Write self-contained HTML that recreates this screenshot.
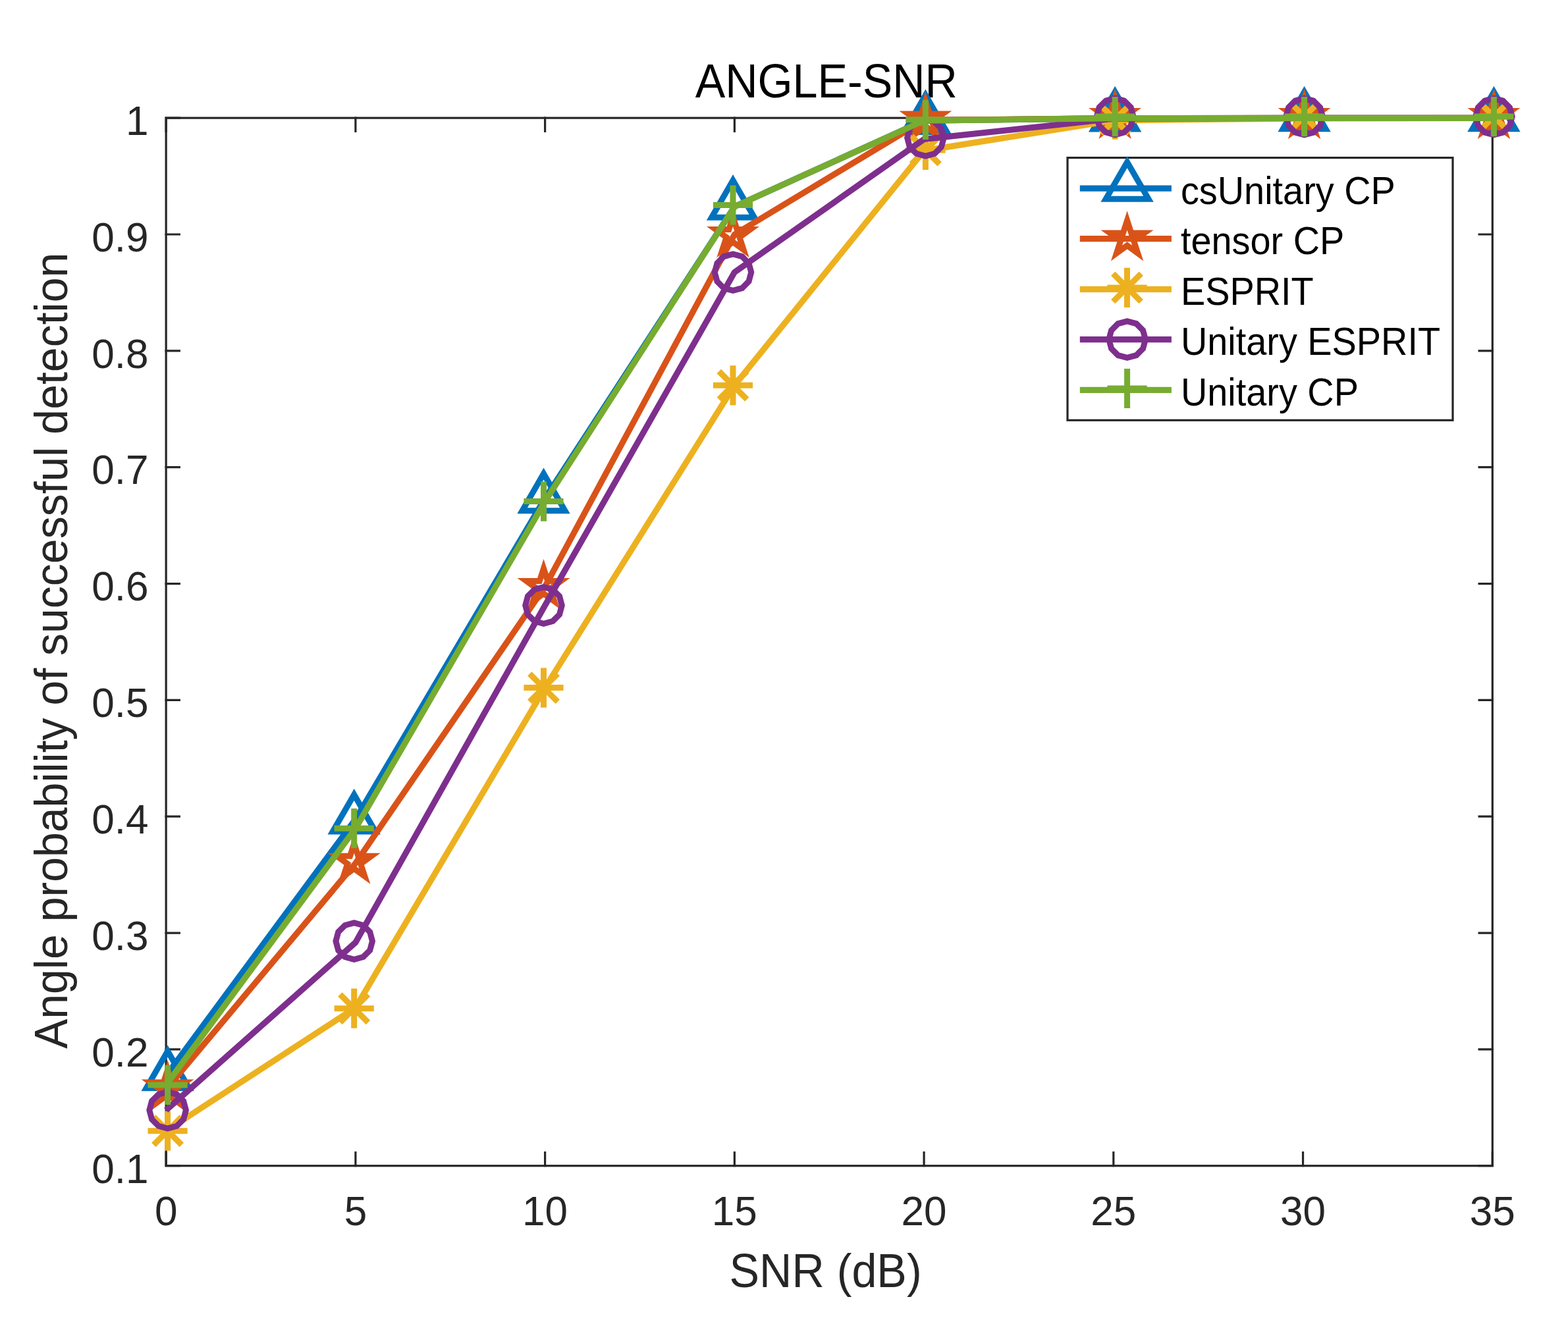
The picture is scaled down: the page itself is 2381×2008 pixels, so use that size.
<!DOCTYPE html>
<html lang="en"><head><meta charset="utf-8"><title>ANGLE-SNR</title>
<style>
html,body{margin:0;padding:0;background:#fff}
svg{display:block}
text{font-family:"Liberation Sans",sans-serif;white-space:pre}
</style></head><body>
<svg width="2381" height="2008" viewBox="0 0 2381 2008">
<rect width="2381" height="2008" fill="#fff"/>
<g stroke="#262626" stroke-width="3.2" fill="none" stroke-linecap="square">
<rect x="252.15" y="179.15" width="2014.15" height="1591.6"/>
<path d="M252.15 1770.75v-20.2M252.15 179.15v20.2M539.89 1770.75v-20.2M539.89 179.15v20.2M827.62 1770.75v-20.2M827.62 179.15v20.2M1115.36 1770.75v-20.2M1115.36 179.15v20.2M1403.09 1770.75v-20.2M1403.09 179.15v20.2M1690.83 1770.75v-20.2M1690.83 179.15v20.2M1978.56 1770.75v-20.2M1978.56 179.15v20.2M2266.3 1770.75v-20.2M2266.3 179.15v20.2M252.15 1770.75h20.2M2266.3 1770.75h-20.2M252.15 1593.91h20.2M2266.3 1593.91h-20.2M252.15 1417.06h20.2M2266.3 1417.06h-20.2M252.15 1240.22h20.2M2266.3 1240.22h-20.2M252.15 1063.37h20.2M2266.3 1063.37h-20.2M252.15 886.53h20.2M2266.3 886.53h-20.2M252.15 709.68h20.2M2266.3 709.68h-20.2M252.15 532.84h20.2M2266.3 532.84h-20.2M252.15 355.99h20.2M2266.3 355.99h-20.2M252.15 179.15h20.2M2266.3 179.15h-20.2"/>
</g>
<g>
<text transform="translate(252.15 1861.3) scale(1 1.028)" font-size="62.06" text-anchor="middle" fill="#262626">0</text>
<text transform="translate(539.89 1861.3) scale(1 1.028)" font-size="62.06" text-anchor="middle" fill="#262626">5</text>
<text transform="translate(827.62 1861.3) scale(1 1.028)" font-size="62.06" text-anchor="middle" fill="#262626">10</text>
<text transform="translate(1115.36 1861.3) scale(1 1.028)" font-size="62.06" text-anchor="middle" fill="#262626">15</text>
<text transform="translate(1403.09 1861.3) scale(1 1.028)" font-size="62.06" text-anchor="middle" fill="#262626">20</text>
<text transform="translate(1690.83 1861.3) scale(1 1.028)" font-size="62.06" text-anchor="middle" fill="#262626">25</text>
<text transform="translate(1978.56 1861.3) scale(1 1.028)" font-size="62.06" text-anchor="middle" fill="#262626">30</text>
<text transform="translate(2266.3 1861.3) scale(1 1.028)" font-size="62.06" text-anchor="middle" fill="#262626">35</text>
<text transform="translate(225.5 1796.55) scale(1 1.028)" font-size="62.06" text-anchor="end" fill="#262626">0.1</text>
<text transform="translate(225.5 1619.71) scale(1 1.028)" font-size="62.06" text-anchor="end" fill="#262626">0.2</text>
<text transform="translate(225.5 1442.86) scale(1 1.028)" font-size="62.06" text-anchor="end" fill="#262626">0.3</text>
<text transform="translate(225.5 1266.02) scale(1 1.028)" font-size="62.06" text-anchor="end" fill="#262626">0.4</text>
<text transform="translate(225.5 1089.17) scale(1 1.028)" font-size="62.06" text-anchor="end" fill="#262626">0.5</text>
<text transform="translate(225.5 912.33) scale(1 1.028)" font-size="62.06" text-anchor="end" fill="#262626">0.6</text>
<text transform="translate(225.5 735.48) scale(1 1.028)" font-size="62.06" text-anchor="end" fill="#262626">0.7</text>
<text transform="translate(225.5 558.64) scale(1 1.028)" font-size="62.06" text-anchor="end" fill="#262626">0.8</text>
<text transform="translate(225.5 381.79) scale(1 1.028)" font-size="62.06" text-anchor="end" fill="#262626">0.9</text>
<text transform="translate(225.5 204.95) scale(1 1.028)" font-size="62.06" text-anchor="end" fill="#262626">1</text>
</g>
<text transform="translate(1107.6 1954.8) scale(1 1.055)" font-size="68.27" text-anchor="start" fill="#262626">SNR (dB)</text>
<text transform="translate(101.5 1593.1) rotate(-90) scale(1 1.025)" font-size="68" text-anchor="start" fill="#262626">Angle probability of successful detection</text>
<text transform="translate(1055.7 148.1) scale(1 1.06)" font-size="68.27" text-anchor="start" fill="#000">ANGLE-SNR</text>
<g><polyline points="252.15,1634 539.89,1244.3 827.62,757 1115.36,313.9 1403.09,183.1 1690.83,179.6 1978.56,179.3 2266.3,179.3" fill="none" stroke="#0072BD" stroke-width="9.2" stroke-linejoin="round" stroke-linecap="butt"/>
<polygon points="254.6,1596.6 287,1652.7 222.2,1652.7" fill="none" stroke="#0072BD" stroke-width="9.0" stroke-linejoin="miter" stroke-miterlimit="10"/>
<polygon points="537.7,1206.9 570.1,1263 505.3,1263" fill="none" stroke="#0072BD" stroke-width="9.0" stroke-linejoin="miter" stroke-miterlimit="10"/>
<polygon points="825.5,719.6 857.9,775.7 793.1,775.7" fill="none" stroke="#0072BD" stroke-width="9.0" stroke-linejoin="miter" stroke-miterlimit="10"/>
<polygon points="1113,274.1 1145.4,330.2 1080.6,330.2" fill="none" stroke="#0072BD" stroke-width="9.0" stroke-linejoin="miter" stroke-miterlimit="10"/>
<polygon points="1405.4,144.4 1437.8,200.5 1373,200.5" fill="none" stroke="#0072BD" stroke-width="9.0" stroke-linejoin="miter" stroke-miterlimit="10"/>
<polygon points="1693.15,139.8 1725.55,195.9 1660.75,195.9" fill="none" stroke="#0072BD" stroke-width="9.0" stroke-linejoin="miter" stroke-miterlimit="10"/>
<polygon points="1980.6,139.7 2013,195.8 1948.2,195.8" fill="none" stroke="#0072BD" stroke-width="9.0" stroke-linejoin="miter" stroke-miterlimit="10"/>
<polygon points="2268.45,139.7 2300.85,195.8 2236.05,195.8" fill="none" stroke="#0072BD" stroke-width="9.0" stroke-linejoin="miter" stroke-miterlimit="10"/>
</g>
<g><polyline points="252.15,1654.9 539.89,1311.1 827.62,891 1115.36,356.1 1403.09,182.7 1690.83,179.6 1978.56,179.3 2266.3,179.3" fill="none" stroke="#D95319" stroke-width="9.2" stroke-linejoin="round" stroke-linecap="butt"/>
<polygon points="254.6,1624.9 260.77,1643.9 280.75,1643.9 264.59,1655.65 270.76,1674.65 254.6,1662.9 238.44,1674.65 244.61,1655.65 228.45,1643.9 248.43,1643.9" fill="none" stroke="#D95319" stroke-width="9.0" stroke-linejoin="miter" stroke-miterlimit="10"/>
<polygon points="537.7,1281.3 543.87,1300.3 563.85,1300.3 547.69,1312.05 553.86,1331.05 537.7,1319.3 521.54,1331.05 527.71,1312.05 511.55,1300.3 531.53,1300.3" fill="none" stroke="#D95319" stroke-width="9.0" stroke-linejoin="miter" stroke-miterlimit="10"/>
<polygon points="825.5,863.5 831.67,882.5 851.65,882.5 835.49,894.25 841.66,913.25 825.5,901.5 809.34,913.25 815.51,894.25 799.35,882.5 819.33,882.5" fill="none" stroke="#D95319" stroke-width="9.0" stroke-linejoin="miter" stroke-miterlimit="10"/>
<polygon points="1113,329.6 1119.17,348.6 1139.15,348.6 1122.99,360.35 1129.16,379.35 1113,367.6 1096.84,379.35 1103.01,360.35 1086.85,348.6 1106.83,348.6" fill="none" stroke="#D95319" stroke-width="9.0" stroke-linejoin="miter" stroke-miterlimit="10"/>
<polygon points="1405.4,153.9 1411.57,172.9 1431.55,172.9 1415.39,184.65 1421.56,203.65 1405.4,191.9 1389.24,203.65 1395.41,184.65 1379.25,172.9 1399.23,172.9" fill="none" stroke="#D95319" stroke-width="9.0" stroke-linejoin="miter" stroke-miterlimit="10"/>
<polygon points="1693.15,149.5 1699.32,168.5 1719.3,168.5 1703.14,180.25 1709.31,199.25 1693.15,187.5 1676.99,199.25 1683.16,180.25 1667,168.5 1686.98,168.5" fill="none" stroke="#D95319" stroke-width="9.0" stroke-linejoin="miter" stroke-miterlimit="10"/>
<polygon points="1980.6,149.6 1986.77,168.6 2006.75,168.6 1990.59,180.35 1996.76,199.35 1980.6,187.6 1964.44,199.35 1970.61,180.35 1954.45,168.6 1974.43,168.6" fill="none" stroke="#D95319" stroke-width="9.0" stroke-linejoin="miter" stroke-miterlimit="10"/>
<polygon points="2268.45,149.6 2274.62,168.6 2294.6,168.6 2278.44,180.35 2284.61,199.35 2268.45,187.6 2252.29,199.35 2258.46,180.35 2242.3,168.6 2262.28,168.6" fill="none" stroke="#D95319" stroke-width="9.0" stroke-linejoin="miter" stroke-miterlimit="10"/>
</g>
<g><polyline points="252.15,1717.7 539.89,1530.5 827.62,1044.6 1115.36,585.3 1403.09,228.9 1690.83,182.9 1978.56,179.9 2266.3,179.3" fill="none" stroke="#EDB120" stroke-width="9.2" stroke-linejoin="round" stroke-linecap="butt"/>
<path d="M224.5 1717.7H284.7M254.6 1687.6V1747.8M233.32 1696.42L275.88 1738.98M233.32 1738.98L275.88 1696.42" fill="none" stroke="#EDB120" stroke-width="9.0" stroke-linejoin="miter" stroke-miterlimit="10"/>
<path d="M507.6 1531.7H567.8M537.7 1501.6V1561.8M516.42 1510.42L558.98 1552.98M516.42 1552.98L558.98 1510.42" fill="none" stroke="#EDB120" stroke-width="9.0" stroke-linejoin="miter" stroke-miterlimit="10"/>
<path d="M795.4 1044.6H855.6M825.5 1014.5V1074.7M804.22 1023.32L846.78 1065.88M804.22 1065.88L846.78 1023.32" fill="none" stroke="#EDB120" stroke-width="9.0" stroke-linejoin="miter" stroke-miterlimit="10"/>
<path d="M1082.9 585.3H1143.1M1113 555.2V615.4M1091.72 564.02L1134.28 606.58M1091.72 606.58L1134.28 564.02" fill="none" stroke="#EDB120" stroke-width="9.0" stroke-linejoin="miter" stroke-miterlimit="10"/>
<path d="M1375.3 228H1435.5M1405.4 197.9V258.1M1384.12 206.72L1426.68 249.28M1384.12 249.28L1426.68 206.72" fill="none" stroke="#EDB120" stroke-width="9.0" stroke-linejoin="miter" stroke-miterlimit="10"/>
<path d="M1663.05 181.7H1723.25M1693.15 151.6V211.8M1671.87 160.42L1714.43 202.98M1671.87 202.98L1714.43 160.42" fill="none" stroke="#EDB120" stroke-width="9.0" stroke-linejoin="miter" stroke-miterlimit="10"/>
<path d="M1950.5 177.1H2010.7M1980.6 147V207.2M1959.32 155.82L2001.88 198.38M1959.32 198.38L2001.88 155.82" fill="none" stroke="#EDB120" stroke-width="9.0" stroke-linejoin="miter" stroke-miterlimit="10"/>
<path d="M2238.35 177.1H2298.55M2268.45 147V207.2M2247.17 155.82L2289.73 198.38M2247.17 198.38L2289.73 155.82" fill="none" stroke="#EDB120" stroke-width="9.0" stroke-linejoin="miter" stroke-miterlimit="10"/>
</g>
<g><polyline points="252.15,1686.3 539.89,1431.5 827.62,919.5 1115.36,413.6 1403.09,211.4 1690.83,180.2 1978.56,179.3 2266.3,179.3" fill="none" stroke="#7E2F8E" stroke-width="9.2" stroke-linejoin="round" stroke-linecap="butt"/>
<polygon points="282.35,1686.3 278.63,1700.17 268.48,1710.33 254.6,1714.05 240.72,1710.33 230.57,1700.17 226.85,1686.3 230.57,1672.42 240.72,1662.27 254.6,1658.55 268.48,1662.27 278.63,1672.42" fill="none" stroke="#7E2F8E" stroke-width="9.0" stroke-linejoin="miter" stroke-miterlimit="10"/>
<polygon points="565.45,1429.5 561.73,1443.38 551.58,1453.53 537.7,1457.25 523.83,1453.53 513.67,1443.38 509.95,1429.5 513.67,1415.62 523.83,1405.47 537.7,1401.75 551.58,1405.47 561.73,1415.62" fill="none" stroke="#7E2F8E" stroke-width="9.0" stroke-linejoin="miter" stroke-miterlimit="10"/>
<polygon points="853.25,919.5 849.53,933.38 839.38,943.53 825.5,947.25 811.62,943.53 801.47,933.38 797.75,919.5 801.47,905.62 811.62,895.47 825.5,891.75 839.38,895.47 849.53,905.62" fill="none" stroke="#7E2F8E" stroke-width="9.0" stroke-linejoin="miter" stroke-miterlimit="10"/>
<polygon points="1140.75,413.6 1137.03,427.48 1126.88,437.63 1113,441.35 1099.12,437.63 1088.97,427.48 1085.25,413.6 1088.97,399.73 1099.12,389.57 1113,385.85 1126.88,389.57 1137.03,399.73" fill="none" stroke="#7E2F8E" stroke-width="9.0" stroke-linejoin="miter" stroke-miterlimit="10"/>
<polygon points="1433.15,209.3 1429.43,223.18 1419.28,233.33 1405.4,237.05 1391.53,233.33 1381.37,223.18 1377.65,209.3 1381.37,195.43 1391.53,185.27 1405.4,181.55 1419.28,185.27 1429.43,195.43" fill="none" stroke="#7E2F8E" stroke-width="9.0" stroke-linejoin="miter" stroke-miterlimit="10"/>
<polygon points="1720.9,177 1717.18,190.88 1707.03,201.03 1693.15,204.75 1679.28,201.03 1669.12,190.88 1665.4,177 1669.12,163.12 1679.28,152.97 1693.15,149.25 1707.03,152.97 1717.18,163.12" fill="none" stroke="#7E2F8E" stroke-width="9.0" stroke-linejoin="miter" stroke-miterlimit="10"/>
<polygon points="2008.35,177.1 2004.63,190.97 1994.47,201.13 1980.6,204.85 1966.72,201.13 1956.57,190.97 1952.85,177.1 1956.57,163.22 1966.72,153.07 1980.6,149.35 1994.47,153.07 2004.63,163.22" fill="none" stroke="#7E2F8E" stroke-width="9.0" stroke-linejoin="miter" stroke-miterlimit="10"/>
<polygon points="2296.2,177.1 2292.48,190.97 2282.32,201.13 2268.45,204.85 2254.57,201.13 2244.42,190.97 2240.7,177.1 2244.42,163.22 2254.57,153.07 2268.45,149.35 2282.32,153.07 2292.48,163.22" fill="none" stroke="#7E2F8E" stroke-width="9.0" stroke-linejoin="miter" stroke-miterlimit="10"/>
</g>
<g><polyline points="252.15,1647.9 539.89,1258.2 827.62,761.6 1115.36,313.9 1403.09,183.1 1690.83,179.6 1978.56,179.3 2266.3,179.3" fill="none" stroke="#77AC30" stroke-width="9.2" stroke-linejoin="round" stroke-linecap="butt"/>
<path d="M224.5 1647.9H284.7M254.6 1617.8V1678" fill="none" stroke="#77AC30" stroke-width="9.0" stroke-linejoin="miter" stroke-miterlimit="10"/>
<path d="M507.6 1258.2H567.8M537.7 1228.1V1288.3" fill="none" stroke="#77AC30" stroke-width="9.0" stroke-linejoin="miter" stroke-miterlimit="10"/>
<path d="M795.4 761.6H855.6M825.5 731.5V791.7" fill="none" stroke="#77AC30" stroke-width="9.0" stroke-linejoin="miter" stroke-miterlimit="10"/>
<path d="M1082.9 311.5H1143.1M1113 281.4V341.6" fill="none" stroke="#77AC30" stroke-width="9.0" stroke-linejoin="miter" stroke-miterlimit="10"/>
<path d="M1375.3 181.8H1435.5M1405.4 151.7V211.9" fill="none" stroke="#77AC30" stroke-width="9.0" stroke-linejoin="miter" stroke-miterlimit="10"/>
<path d="M1663.05 177.1H1723.25M1693.15 147V207.2" fill="none" stroke="#77AC30" stroke-width="9.0" stroke-linejoin="miter" stroke-miterlimit="10"/>
<path d="M1950.5 177.1H2010.7M1980.6 147V207.2" fill="none" stroke="#77AC30" stroke-width="9.0" stroke-linejoin="miter" stroke-miterlimit="10"/>
<path d="M2238.35 177.1H2298.55M2268.45 147V207.2" fill="none" stroke="#77AC30" stroke-width="9.0" stroke-linejoin="miter" stroke-miterlimit="10"/>
</g>
<rect x="1621.0" y="239.6" width="585" height="398.7" fill="#fff" stroke="#262626" stroke-width="3.2"/>
<path d="M1639.8 286.1H1778.9" stroke="#0072BD" stroke-width="9.2" fill="none"/>
<polygon points="1711.6,246.2 1744,302.3 1679.2,302.3" fill="none" stroke="#0072BD" stroke-width="9.0" stroke-linejoin="miter" stroke-miterlimit="10"/>
<text transform="translate(1792.9 309.7) scale(1 1.05)" font-size="55.86" text-anchor="start" fill="#000">csUnitary CP</text>
<path d="M1639.8 362.6H1778.9" stroke="#D95319" stroke-width="9.2" fill="none"/>
<polygon points="1711.6,334.9 1717.77,353.9 1737.75,353.9 1721.59,365.65 1727.76,384.65 1711.6,372.9 1695.44,384.65 1701.61,365.65 1685.45,353.9 1705.43,353.9" fill="none" stroke="#D95319" stroke-width="9.0" stroke-linejoin="miter" stroke-miterlimit="10"/>
<text transform="translate(1792.9 386.2) scale(1 1.05)" font-size="55.86" text-anchor="start" fill="#000">tensor CP</text>
<path d="M1639.8 439.3H1778.9" stroke="#EDB120" stroke-width="9.2" fill="none"/>
<path d="M1681.4 436.9H1741.6M1711.5 406.8V467M1690.22 415.62L1732.78 458.18M1690.22 458.18L1732.78 415.62" fill="none" stroke="#EDB120" stroke-width="9.0" stroke-linejoin="miter" stroke-miterlimit="10"/>
<text transform="translate(1792.9 462.9) scale(1 1.05)" font-size="55.86" text-anchor="start" fill="#000">ESPRIT</text>
<path d="M1639.8 515.6H1778.9" stroke="#7E2F8E" stroke-width="9.2" fill="none"/>
<polygon points="1739.35,515.6 1735.63,529.48 1725.47,539.63 1711.6,543.35 1697.72,539.63 1687.57,529.48 1683.85,515.6 1687.57,501.73 1697.72,491.57 1711.6,487.85 1725.47,491.57 1735.63,501.73" fill="none" stroke="#7E2F8E" stroke-width="9.0" stroke-linejoin="miter" stroke-miterlimit="10"/>
<text transform="translate(1792.9 539.2) scale(1 1.05)" font-size="55.86" text-anchor="start" fill="#000">Unitary ESPRIT</text>
<path d="M1639.8 592.4H1778.9" stroke="#77AC30" stroke-width="9.2" fill="none"/>
<path d="M1681.5 590H1741.7M1711.6 559.9V620.1" fill="none" stroke="#77AC30" stroke-width="9.0" stroke-linejoin="miter" stroke-miterlimit="10"/>
<text transform="translate(1792.9 616) scale(1 1.05)" font-size="55.86" text-anchor="start" fill="#000">Unitary CP</text>
</svg></body></html>
